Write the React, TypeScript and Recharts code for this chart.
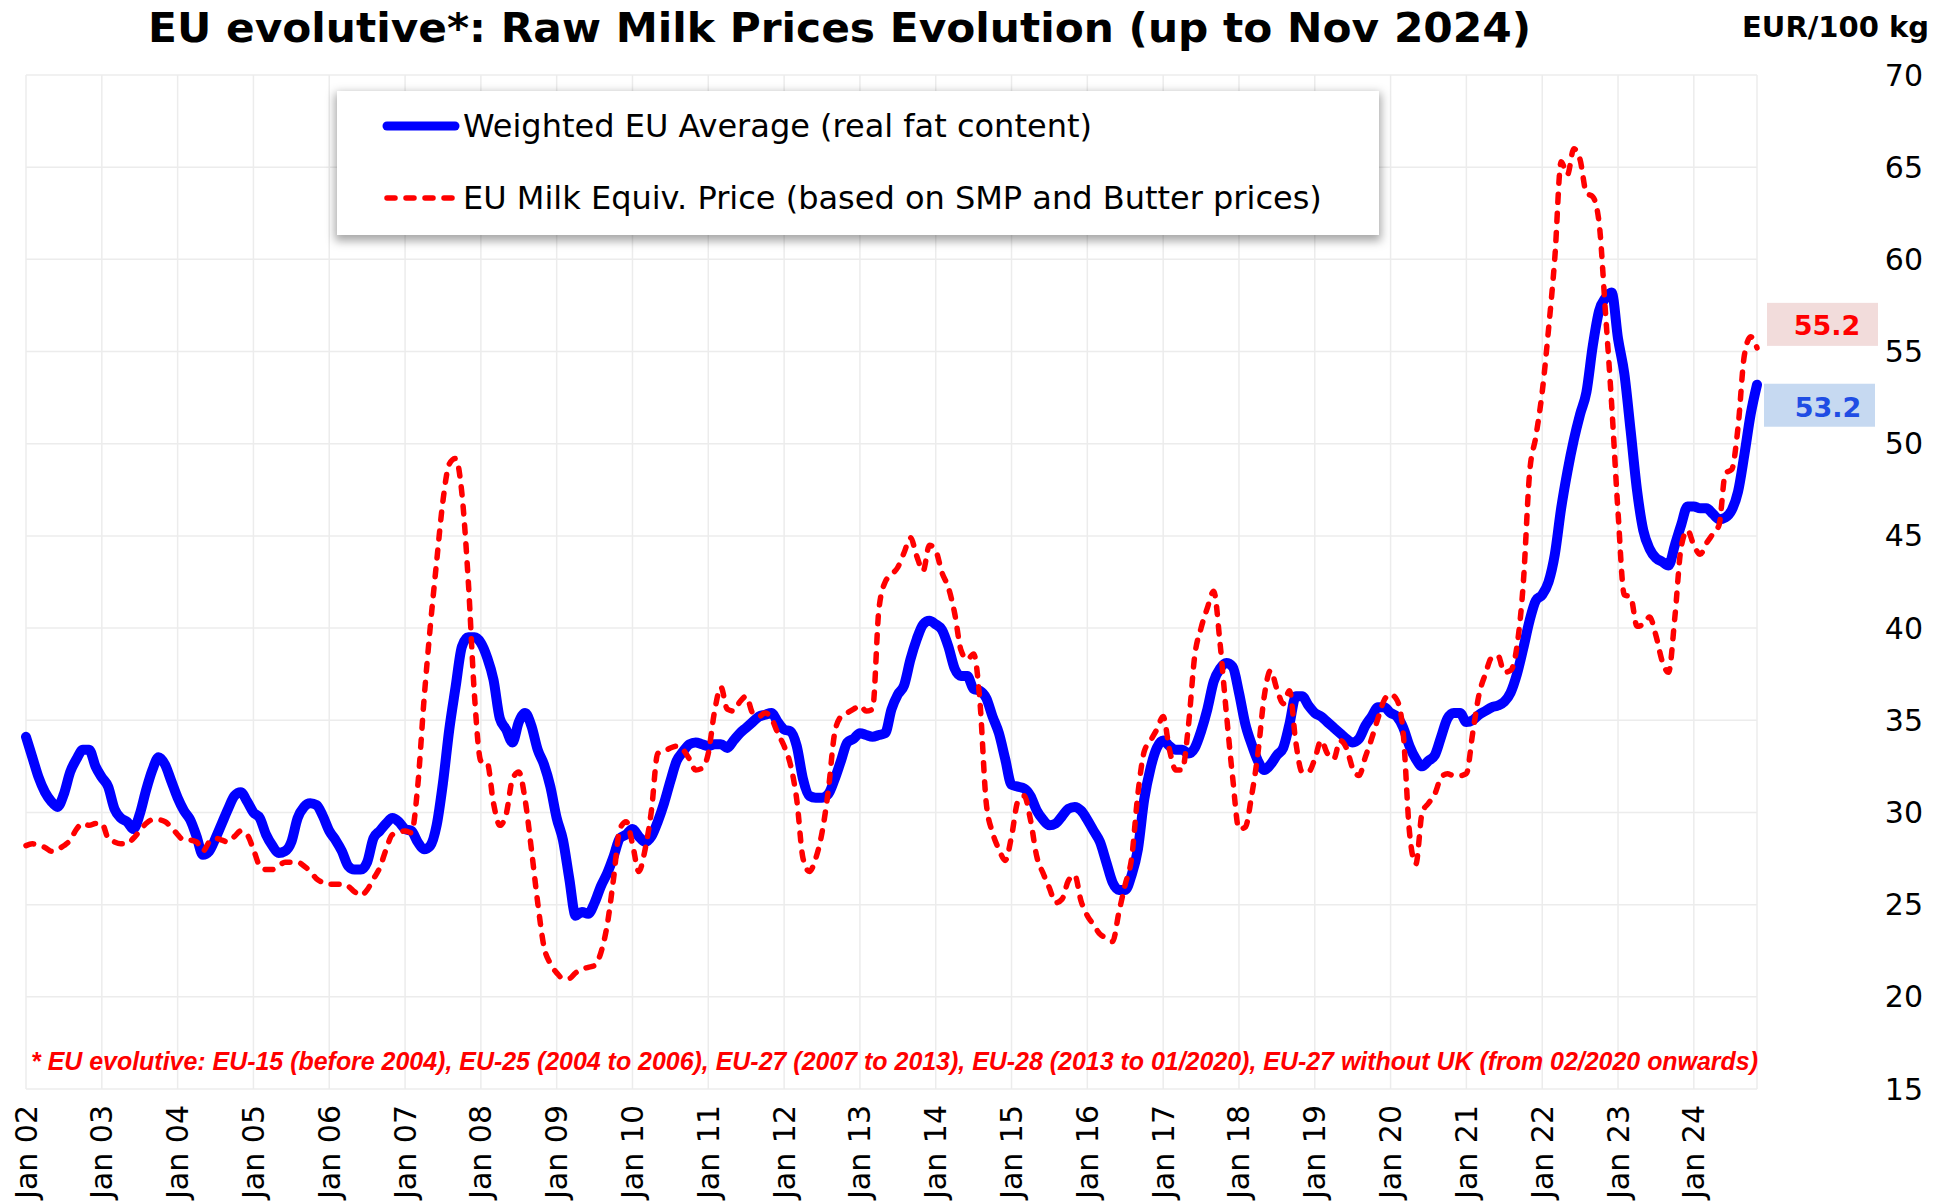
import React from 'react';
import { LineChart, Line, XAxis, YAxis, CartesianGrid, Legend } from 'recharts';

// monthly values, Jan 2002 .. Nov 2024 (EUR/100 kg)
const weightedAvg = [
  34.1, 33.0, 31.9, 31.1, 30.6, 30.3, 31.0, 32.2, 32.9, 33.4, 33.4, 32.5,
  31.9, 31.4, 30.2, 29.7, 29.5, 29.1, 29.9, 31.2, 32.3, 33.0, 32.6, 31.7,
  30.8, 30.1, 29.6, 28.7, 27.7, 27.9, 28.6, 29.4, 30.2, 30.9, 31.1, 30.6,
  30.0, 29.7, 28.8, 28.2, 27.8, 27.9, 28.4, 29.7, 30.3, 30.5, 30.4, 29.8,
  29.0, 28.5, 27.9, 27.1, 26.9, 26.9, 27.3, 28.6, 29.0, 29.4, 29.7, 29.5,
  29.1, 29.0, 28.4, 28.0, 28.2, 29.3, 31.6, 34.5, 36.8, 39.0, 39.5, 39.5,
  39.2, 38.4, 37.2, 35.1, 34.5, 33.8, 34.9, 35.4, 34.7, 33.4, 32.6, 31.4,
  29.7, 28.5, 26.4, 24.4, 24.6, 24.5, 25.1, 26.0, 26.7, 27.6, 28.6, 28.8,
  29.1, 28.7, 28.4, 28.7, 29.5, 30.5, 31.7, 32.8, 33.3, 33.7, 33.8, 33.7,
  33.6, 33.7, 33.7, 33.5, 33.9, 34.3, 34.6, 34.9, 35.2, 35.3, 35.4, 34.9,
  34.5, 34.4, 33.6, 31.8, 30.9, 30.8, 30.8, 31.0, 31.8, 32.8, 33.8, 34.0,
  34.3, 34.2, 34.1, 34.2, 34.3, 35.6, 36.4, 36.9, 38.3, 39.4, 40.2, 40.4,
  40.2, 39.9, 39.0, 37.8, 37.4, 37.4, 36.7, 36.6, 36.2, 35.2, 34.3, 32.9,
  31.5, 31.4, 31.3, 30.9, 30.1, 29.6, 29.3, 29.4, 29.8, 30.2, 30.3, 30.1,
  29.6, 29.0, 28.4, 27.3, 26.2, 25.8, 25.8, 26.6, 28.0, 30.7, 32.4, 33.5,
  33.9, 33.6, 33.4, 33.4, 33.2, 33.5, 34.4, 35.6, 37.1, 37.8, 38.1, 37.9,
  36.5, 34.8, 33.7, 32.8, 32.3, 32.6, 33.1, 33.5, 34.8, 36.3, 36.3, 35.8,
  35.4, 35.2, 34.9, 34.6, 34.3, 34.0, 33.8, 34.0, 34.7, 35.2, 35.7, 35.7,
  35.4, 35.2, 34.6, 33.6, 32.9, 32.5, 32.8, 33.1, 34.1, 35.1, 35.4, 35.4,
  34.9, 35.0, 35.3, 35.5, 35.7, 35.8, 36.0, 36.5, 37.5, 38.9, 40.4, 41.5,
  41.8, 42.5, 44.0, 46.5, 48.5, 50.2, 51.6, 52.8, 55.3, 57.2, 57.9, 58.2,
  55.7, 53.8, 50.7, 47.5, 45.3, 44.3, 43.8, 43.6, 43.4, 44.5, 45.6, 46.6,
  46.6, 46.5, 46.5, 46.2, 45.9, 46.0, 46.4, 47.4, 49.4, 51.6, 53.2,
];

const milkEquiv = [
  28.2, 28.3, 28.2, 28.1, 27.9, 28.0, 28.2, 28.5, 29.1, 29.4, 29.3, 29.4,
  29.4, 28.6, 28.4, 28.3, 28.3, 28.6, 29.0, 29.4, 29.6, 29.6, 29.5, 29.2,
  28.8, 28.5, 28.5, 28.4, 27.9, 28.4, 28.6, 28.5, 28.4, 28.7, 29.0, 28.8,
  28.0, 27.1, 26.9, 26.9, 27.1, 27.3, 27.3, 27.3, 27.1, 26.8, 26.4, 26.2,
  26.1, 26.1, 26.1, 26.0, 25.7, 25.5, 25.8, 26.4, 27.0, 28.0, 28.8, 28.9,
  29.0, 28.9, 31.4, 36.1, 40.1, 43.6, 46.9, 48.9, 49.2, 47.3, 42.6, 36.3,
  32.8, 32.7, 30.5, 29.3, 29.9, 31.8, 32.2, 30.7, 28.0, 25.1, 22.7, 21.8,
  21.3, 21.0, 21.0, 21.3, 21.5, 21.6, 21.7, 22.4, 23.9, 26.4, 29.1, 29.5,
  28.3, 26.8, 28.0, 30.1, 33.2, 33.3, 33.5, 33.6, 33.4, 32.9, 32.3, 32.4,
  33.2, 35.5, 36.8, 35.6, 35.5, 36.0, 36.3, 35.4, 35.2, 35.4, 35.1, 34.3,
  33.6, 32.6, 30.7, 27.5, 26.8, 27.5, 28.9, 31.2, 34.3, 35.2, 35.4, 35.6,
  35.8, 35.5, 35.6, 41.0, 42.5, 42.9, 43.3, 44.1, 44.9, 43.9, 43.1, 44.5,
  44.2, 43.0, 42.2, 40.8, 38.8, 38.3, 38.6, 36.0, 30.5, 28.9, 28.0, 27.4,
  28.7, 30.6, 30.9, 29.6, 27.6, 26.7, 25.9, 25.1, 25.3, 26.3, 26.6, 25.2,
  24.4, 23.9, 23.4, 23.2, 23.0, 24.6, 26.1, 27.5, 31.0, 33.3, 33.9, 34.5,
  35.2, 33.4, 32.3, 32.3, 34.7, 38.5, 40.0, 41.1, 42.0, 39.2, 35.4, 31.9,
  29.1, 29.2, 30.9, 33.2, 36.3, 37.7, 36.7, 35.9, 36.6, 33.8, 32.2, 32.2,
  32.9, 33.9, 33.2, 32.9, 33.9, 33.5, 32.4, 32.0, 33.0, 34.0, 35.1, 36.1,
  36.4, 36.1, 34.3, 28.9, 27.2, 30.0, 30.5, 31.0, 31.9, 32.1, 32.0, 32.0,
  32.1, 34.3, 36.4, 37.5, 38.4, 38.5, 37.6, 37.7, 39.0, 42.4, 48.4, 50.4,
  52.8, 56.2, 60.1, 65.3, 64.6, 66.0, 65.4, 63.6, 63.4, 62.0, 57.2, 52.1,
  46.3, 41.8, 41.7, 40.1, 40.2, 40.6, 39.6, 38.2, 37.6, 40.6, 44.4, 45.3,
  44.5, 44.0, 44.6, 45.1, 45.6, 48.4, 48.6, 50.9, 54.8, 55.8, 55.2,
];

const yearLabels = [
  'Jan 02', 'Jan 03', 'Jan 04', 'Jan 05', 'Jan 06', 'Jan 07', 'Jan 08', 'Jan 09',
  'Jan 10', 'Jan 11', 'Jan 12', 'Jan 13', 'Jan 14', 'Jan 15', 'Jan 16', 'Jan 17',
  'Jan 18', 'Jan 19', 'Jan 20', 'Jan 21', 'Jan 22', 'Jan 23', 'Jan 24',
];

const priceTicks = [15, 20, 25, 30, 35, 40, 45, 50, 55, 60, 65, 70];

const seriesNames = [
  'Weighted EU Average (real fat content)',
  'EU Milk Equiv. Price (based on SMP and Butter prices)',
];

const footnote =
  '* EU evolutive: EU-15 (before 2004), EU-25 (2004 to 2006), EU-27 (2007 to 2013), EU-28 (2013 to 01/2020), EU-27 without UK (from 02/2020 onwards)';

const rows = weightedAvg.map((v, i) => ({ m: i, avg: v, equiv: milkEquiv[i] }));
const lastIndex = rows.length - 1;
const monthTicks = yearLabels.map((_, k) => k * 12);

const FONT = 'DejaVu Sans, Verdana, sans-serif';
const RED_DASH = '8 11';

function MonthTick(props: any) {
  const { x, y, payload } = props;
  const ty = y + 16;
  return (
    <text
      x={x}
      y={ty}
      transform={`rotate(-90 ${x} ${ty})`}
      textAnchor="end"
      dominantBaseline="central"
      fontFamily={FONT}
      fontSize={30}
      fill="#000"
    >
      {yearLabels[Math.round(payload.value / 12)]}
    </text>
  );
}

function PriceTick(props: any) {
  const { x, y, payload } = props;
  return (
    <text x={x + 166} y={y} textAnchor="end" dominantBaseline="central" fontFamily={FONT} fontSize={30} fill="#000">
      {payload.value}
    </text>
  );
}

function EquivEndLabel(props: any) {
  const { x, y, index, value } = props;
  if (index !== lastIndex) return null;
  return (
    <g>
      <rect x={x + 10} y={y - 45} width={111} height={43} fill="#f2dcdb" />
      <text x={x + 70} y={y - 13} textAnchor="middle" fontFamily={FONT} fontWeight="bold" fontSize={27} fill="#ff0000">
        {Number(value).toFixed(1)}
      </text>
    </g>
  );
}

function AvgEndLabel(props: any) {
  const { x, y, index, value } = props;
  if (index !== lastIndex) return null;
  return (
    <g>
      <rect x={x + 7} y={y - 1} width={111} height={43} fill="#c6d9f1" />
      <text x={x + 71} y={y + 32} textAnchor="middle" fontFamily={FONT} fontWeight="bold" fontSize={27} fill="#1f4de4">
        {Number(value).toFixed(1)}
      </text>
    </g>
  );
}

function LegendBox(props: any) {
  const items = [...(props.payload || [])].sort(
    (a: any, b: any) => seriesNames.indexOf(a.value) - seriesNames.indexOf(b.value)
  );
  return (
    <div
      style={{
        width: 1042,
        height: 144,
        background: '#fff',
        boxShadow: '0 4px 9px 2px rgba(0,0,0,0.35)',
      }}
    >
      <svg width={1042} height={144}>
        {items.map((item: any, i: number) => {
          const cy = 35 + i * 72;
          const dashed = item.payload && item.payload.strokeDasharray;
          return (
            <g key={item.value}>
              <line
                x1={50}
                x2={118}
                y1={cy}
                y2={cy}
                stroke={item.color}
                strokeWidth={dashed ? 5.5 : 9}
                strokeLinecap="round"
                strokeDasharray={dashed || undefined}
              />
              <text x={126} y={cy + 11} fontFamily={FONT} fontSize={32} fill="#000">
                {item.value}
              </text>
            </g>
          );
        })}
      </svg>
    </div>
  );
}

export default function App() {
  return (
    <div style={{ position: 'absolute', left: 0, top: 0, width: 1936, height: 1202, background: '#fff' }}>
      <LineChart width={1936} height={1202} data={rows} margin={{ top: 75, right: 0, bottom: 0, left: 26 }}>
        <CartesianGrid stroke="#ececec" strokeWidth={1.5} />
        <XAxis
          dataKey="m"
          type="number"
          domain={[0, lastIndex]}
          ticks={monthTicks}
          interval={0}
          tick={<MonthTick />}
          tickLine={false}
          axisLine={false}
          tickSize={0}
          tickMargin={0}
          height={113}
        />
        <YAxis
          orientation="right"
          type="number"
          domain={[15, 70]}
          ticks={priceTicks}
          interval={0}
          tick={<PriceTick />}
          tickLine={false}
          axisLine={false}
          tickSize={0}
          tickMargin={0}
          width={179}
        />
        <Legend
          layout="vertical"
          align="center"
          verticalAlign="middle"
          wrapperStyle={{ left: 337, top: 91, width: 1042, height: 144 }}
          content={<LegendBox />}
        />
        <Line
          dataKey="avg"
          name={seriesNames[0]}
          type="monotone"
          stroke="#0000ff"
          strokeWidth={10}
          strokeLinecap="round"
          strokeLinejoin="round"
          dot={false}
          activeDot={false}
          label={AvgEndLabel}
          isAnimationActive={false}
        />
        <Line
          dataKey="equiv"
          name={seriesNames[1]}
          type="monotone"
          stroke="#ff0000"
          strokeWidth={5.5}
          strokeDasharray={RED_DASH}
          strokeLinecap="round"
          strokeLinejoin="round"
          dot={false}
          activeDot={false}
          label={EquivEndLabel}
          isAnimationActive={false}
        />
      </LineChart>
      <svg
        width={1936}
        height={1202}
        style={{ position: 'absolute', left: 0, top: 0, pointerEvents: 'none' }}
      >
        <text
          x={148}
          y={42}
          fontFamily={FONT}
          fontWeight="bold"
          fontSize={40}
          fill="#000"
          textLength={1383}
          lengthAdjust="spacingAndGlyphs"
        >
          EU evolutive*: Raw Milk Prices Evolution (up to Nov 2024)
        </text>
        <text x={1929} y={37} textAnchor="end" fontFamily={FONT} fontWeight="bold" fontSize={29} fill="#000">
          EUR/100 kg
        </text>
        <text
          x={31}
          y={1070}
          fontFamily="Liberation Sans, Arial, sans-serif"
          fontWeight="bold"
          fontStyle="italic"
          fontSize={25}
          fill="#ff0000"
          textLength={1727}
          lengthAdjust="spacingAndGlyphs"
        >
          {footnote}
        </text>
      </svg>
    </div>
  );
}
